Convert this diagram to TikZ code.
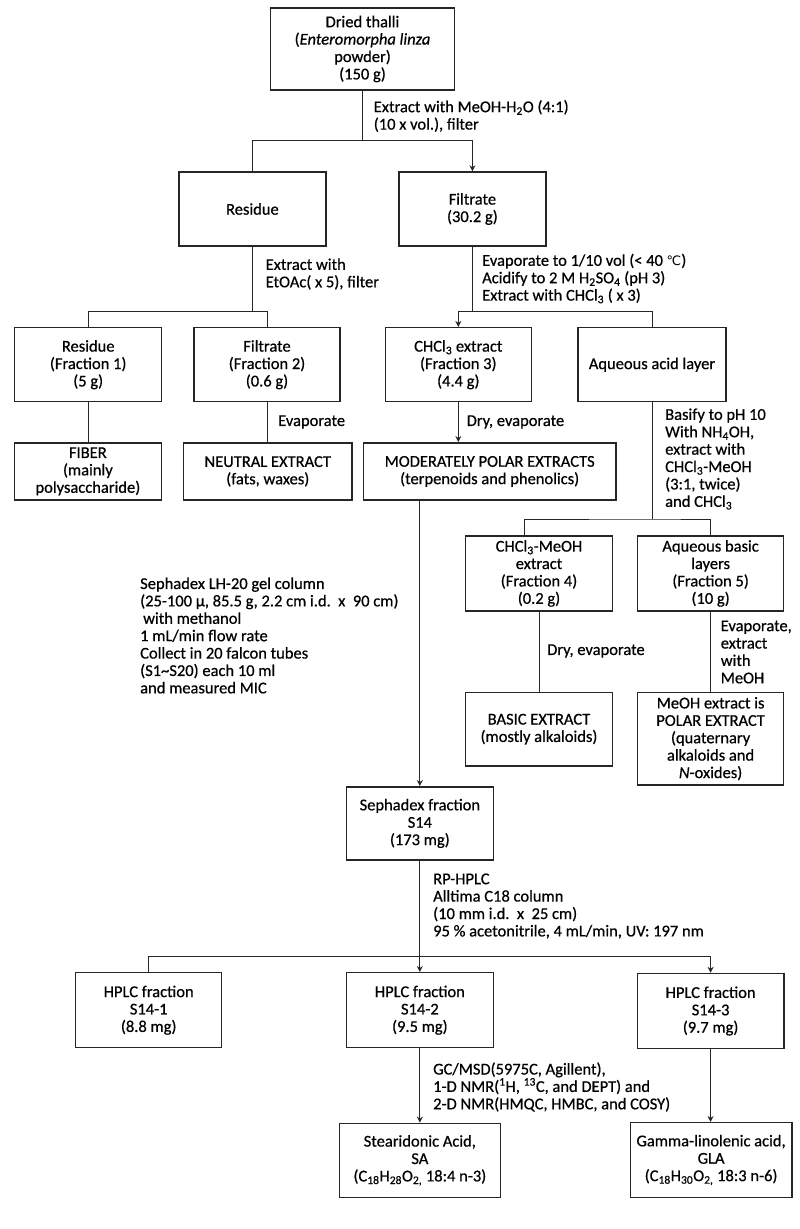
\documentclass[tikz,border=0pt]{standalone}
\usepackage{fontspec}
\setmainfont{Carlito}[BoldFont=Carlito, BoldFeatures={FakeBold=0.6}, BoldItalicFont=Carlito Italic, BoldItalicFeatures={FakeBold=0.6}]
\newfontfamily\djv{DejaVu Sans}
\usetikzlibrary{arrows.meta,calc}
\newcommand{\sbs}[1]{\textsubscript{#1}}
\newcommand{\sps}[1]{\textsuperscript{#1}}
\begin{document}
\begin{tikzpicture}[x=1pt,y=-1pt,
  every node/.style={font=\fontsize{16.5}{17.4}\selectfont\bfseries},
  box/.style={draw=black!85, line width=1.5pt, align=center, inner sep=0pt},
  lbl/.style={align=left, anchor=west, inner sep=0pt},
  conn/.style={draw=black!85, line width=0.8pt},
  arr/.style={-{Stealth[length=6pt,width=6pt,inset=2pt]}}]
\useasboundingbox (0,0) rectangle (800,1229);
% boxes
\node[box, minimum width=184, minimum height=82] (top) at (362.5,49) {Dried thalli\\(\textit{Enteromorpha linza}\\powder)\\(150 g)};
\node[box, minimum width=147, minimum height=74] (res) at (252.4,209) {Residue};
\node[box, minimum width=147, minimum height=74] (fil) at (472.4,209) {Filtrate\\(30.2 g)};
\node[box, minimum width=147, minimum height=74] (r1) at (88.2,364.7) {Residue\\(Fraction 1)\\(5 g)};
\node[box, minimum width=146, minimum height=74] (f2) at (267,364.7) {Filtrate\\(Fraction 2)\\(0.6 g)};
\node[box, minimum width=146, minimum height=74] (c3) at (458.3,364.7) {CHCl\sbs{3} extract\\(Fraction 3)\\(4.4 g)};
\node[box, minimum width=148, minimum height=74] (aq) at (652,364.7) {Aqueous acid layer};
\node[box, minimum width=147, minimum height=57.3] (fiber) at (87.9,471.4) {FIBER\\(mainly\\polysaccharide)};
\node[box, minimum width=168.5, minimum height=57.3] (neutral) at (267.75,471.4) {NEUTRAL EXTRACT\\(fats, waxes)};
\node[box, minimum width=252.6, minimum height=57.3] (mod) at (489.7,471.4) {MODERATELY POLAR EXTRACTS\\(terpenoids and phenolics)};
\node[box, minimum width=147, minimum height=74.7] (c4) at (539,573.4) {CHCl\sbs{3}-MeOH\\extract\\(Fraction 4)\\(0.2 g)};
\node[box, minimum width=146, minimum height=74.7] (ab) at (710.6,573.4) {Aqueous basic\\layers\\(Fraction 5)\\(10 g)};
\node[box, minimum width=147, minimum height=73.7] (basic) at (539,729.2) {BASIC EXTRACT\\(mostly alkaloids)};
\node[box, minimum width=146, minimum height=92.7] (polar) at (710.6,738.7) {MeOH extract is\\POLAR EXTRACT\\(quaternary\\alkaloids and\\\textit{N}-oxides)};
\node[box, minimum width=147, minimum height=73.3] (seph) at (419.85,823.4) {Sephadex fraction\\S14\\(173 mg)};
\node[box, minimum width=146, minimum height=75] (h1) at (148.7,1010.2) {HPLC fraction\\S14-1\\(8.8 mg)};
\node[box, minimum width=147, minimum height=75] (h2) at (419.85,1010.2) {HPLC fraction\\S14-2\\(9.5 mg)};
\node[box, minimum width=146.5, minimum height=75] (h3) at (710.6,1011) {HPLC fraction\\S14-3\\(9.7 mg)};
\node[box, minimum width=161, minimum height=74] (sa) at (419.85,1160.3) {Stearidonic Acid,\\SA\\(C\sbs{18}H\sbs{28}O\sbs{2,} 18:4 n-3)};
\node[box, minimum width=161.4, minimum height=74.6] (gla) at (711.1,1160) {Gamma-linolenic acid,\\GLA\\(C\sbs{18}H\sbs{30}O\sbs{2,} 18:3 n-6)};
% labels
\node[lbl] (l1) at (373.6,116) {Extract with MeOH-H\sbs{2}O (4:1)\\(10 x vol.), filter};
\node[lbl] (l2) at (265.5,274) {Extract with\\EtOAc( x 5), filter};
\node[lbl] (l3) at (482,278.5) {Evaporate to 1/10 vol (< 40 {\djv\mdseries\fontsize{13}{15}\selectfont ℃})\\Acidify to 2 M H\sbs{2}SO\sbs{4} (pH 3)\\Extract with CHCl\sbs{3} ( x 3)};
\node[lbl] (l4) at (278,422) {Evaporate};
\node[lbl] (l5) at (466.5,422) {Dry, evaporate};
\node[lbl] (l6) at (665,459) {Basify to pH 10\\With NH\sbs{4}OH,\\extract with\\CHCl\sbs{3}-MeOH\\(3:1, twice)\\and CHCl\sbs{3}};
\node[lbl] (l7) at (140,635.5) {Sephadex LH-20 gel column\\(25-100 µ, 85.5 g, 2.2 cm i.d.\ \ x\ \ 90 cm)\\\hspace*{3pt}with methanol\\1 mL/min flow rate\\Collect in 20 falcon tubes\\(S1\textasciitilde S20) each 10 ml\\and measured MIC};
\node[lbl] (l8) at (547,651) {Dry, evaporate};
\node[lbl] (l9) at (720.6,652) {Evaporate,\\extract\\with\\MeOH};
\node[lbl] (l10) at (433,906) {RP-HPLC\\Alltima C18 column\\(10 mm i.d.\ \ x\ \ 25 cm)\\95 \% acetonitrile, 4 mL/min, UV: 197 nm};
\node[lbl] (l11) at (433,1087) {GC/MSD(5975C, Agillent),\\1-D NMR(\sps{1}H, \sps{13}C, and DEPT) and\\2-D NMR(HMQC, HMBC, and COSY)};
% junctions
\coordinate (j1) at (362.5,140);
\coordinate (j2) at (252.4,311);
\coordinate (j3) at (472.4,311.5);
\coordinate (j4) at (652,519);
\coordinate (j5) at (419.85,956);
% connectors
\draw[conn] (top.south) -- (j1);
\draw[conn] (j1) -| (res.north);
\draw[conn,arr] (j1) -| (fil.north);
\draw[conn] (res.south) -- (j2);
\draw[conn] (r1.north) |- (j2 -| f2.north) -- (f2.north);
\draw[conn] (fil.south) -- (j3);
\draw[conn,arr] (j3) -| (c3.north);
\draw[conn] (j3) -| (aq.north);
\draw[conn] (r1.south) -- (r1.south |- fiber.north);
\draw[conn] (f2.south) -- (f2.south |- neutral.north);
\draw[conn,arr] (c3.south) -- (c3.south |- mod.north);
\draw[conn] (aq.south) -- (j4);
\draw[conn] ([xshift=-14.3pt]c4.north) |- (j4) -| (ab.north);
\draw[conn,arr] (mod.south -| seph.north) -- (seph.north);
\draw[conn] (c4.south) -- (basic.north);
\draw[conn] (ab.south) -- (polar.north);
\draw[conn,arr] (seph.south) -- (h2.north);
\draw[conn] (h1.north) |- (j5);
\draw[conn,arr] (j5) -| (h3.north);
\draw[conn,arr] (h2.south) -- (sa.north);
\draw[conn,arr] (h3.south) -- (h3.south |- gla.north);
\end{tikzpicture}
\end{document}
